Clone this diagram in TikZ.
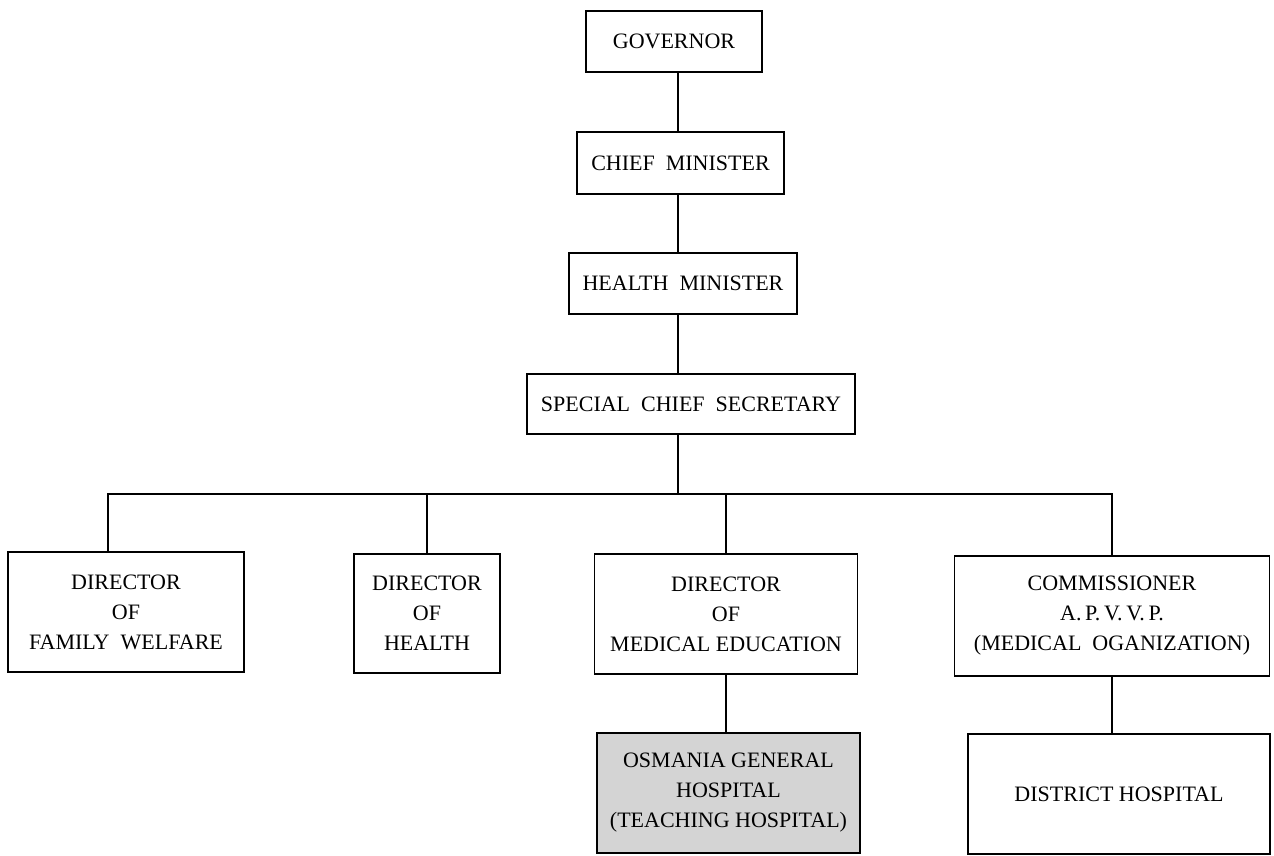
\documentclass[tikz,border=0pt]{standalone}
\usepackage{fontspec}
\setmainfont{Liberation Serif}
\begin{document}
\begin{tikzpicture}[x=0.5pt,y=-0.5pt,
  orgbox/.style={draw=black, line width=0.75pt, align=center, inner sep=2pt,
    font=\fontsize{11}{15}\selectfont, text=black},
  link/.style={draw=black, line width=0.75pt},
  shaded/.style={fill=black!17}]
\useasboundingbox (0,0) rectangle (1274,856);
\fill[white] (0,0) rectangle (1274,856);

\node[orgbox, minimum width=88pt, minimum height=30.5pt] (gov) at (674,41.5) {GOVERNOR};
\node[orgbox, minimum width=103.5pt, minimum height=31pt] (cm) at (680.5,163) {CHIEF\ \ MINISTER};
\node[orgbox, minimum width=114pt, minimum height=30.5pt] (hm) at (683,283.5) {HEALTH\ \ MINISTER};
\node[orgbox, minimum width=164pt, minimum height=30pt] (scs) at (691,404) {SPECIAL\ \ CHIEF\ \ SECRETARY};

\node[orgbox, minimum width=118pt, minimum height=60pt] (fw) at (126,612) {DIRECTOR\\OF\\FAMILY\ \ WELFARE};
\node[orgbox, minimum width=73pt, minimum height=59.5pt] (dh) at (427,613.5) {DIRECTOR\\OF\\HEALTH};
\node[orgbox, minimum width=131.5pt, minimum height=60pt] (dme) at (726,614) {DIRECTOR\\OF\\MEDICAL EDUCATION};
\node[orgbox, minimum width=157.5pt, minimum height=60pt] (com) at (1112,616) {COMMISSIONER\\A.\,P.\,V.\,V.\,P.\\(MEDICAL\ \ OGANIZATION)};

\node[orgbox, shaded, minimum width=131.5pt, minimum height=60pt] (ogh) at (728.5,793) {OSMANIA GENERAL\\HOSPITAL\\(TEACHING HOSPITAL)};
\node[orgbox, minimum width=151pt, minimum height=60pt] (dist) at (1119,794) {DISTRICT HOSPITAL};

\coordinate (sp) at (678,0);
\coordinate (barL) at (108,494);
\coordinate (barR) at (1112,494);

\draw[link] (gov.south -| sp) -- (cm.north -| sp);
\draw[link] (cm.south -| sp) -- (hm.north -| sp);
\draw[link] (hm.south -| sp) -- (scs.north -| sp);
\draw[link] (scs.south -| sp) -- (barL -| sp);
\draw[link] (fw.north -| barL) -- (barL) -- (barR) -- (com.north);
\draw[link] (dh.north) -- (dh.north |- barL);
\draw[link] (dme.north) -- (dme.north |- barL);
\draw[link] (dme.south) -- (dme.south |- ogh.north);
\draw[link] (com.south) -- (com.south |- dist.north);
\end{tikzpicture}
\end{document}
